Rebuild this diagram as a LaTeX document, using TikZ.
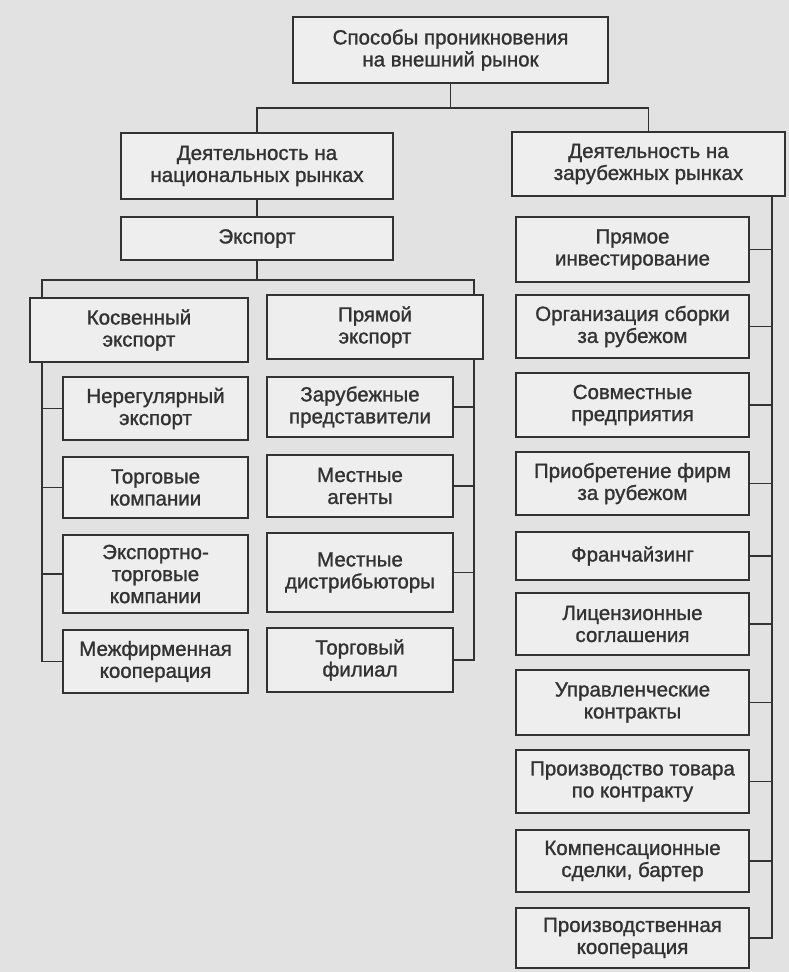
\documentclass[tikz,border=0pt]{standalone}
\usepackage{fontspec}
\newfontfamily\boxfont[FakeBold=1.2]{Liberation Sans}
\definecolor{pagebg}{RGB}{226,226,226}
\definecolor{boxfill}{RGB}{238,238,238}
\definecolor{ink}{RGB}{50,50,50}
\begin{document}
\begin{tikzpicture}[x=1pt, y=-1pt,
    box/.style={draw=ink, fill=boxfill, line width=1.7pt, align=center, inner sep=0pt,
                text=ink, font=\boxfont\fontsize{20.5}{22}\selectfont},
    link/.style={draw=ink, line width=1.7pt}]
        \fill[pagebg] (0,0) rectangle (789,972);
        \useasboundingbox (0,0) rectangle (789,972);

        % upper levels
        \node[box, minimum width=315pt, minimum height=66pt] (root) at (450.5,50) {Способы проникновения\\на внешний рынок};
        \node[box, minimum width=272pt, minimum height=66pt] (nat) at (257,166) {Деятельность на\\национальных рынках};
        \node[box, minimum width=273pt, minimum height=64pt] (fr) at (648.5,164) {Деятельность на\\зарубежных рынках};
        \node[box, minimum width=272pt, minimum height=43pt] (exp) at (257,238.5) {Экспорт};

        \node[box, minimum width=218pt, minimum height=64pt] (kos) at (139,330) {Косвенный\\экспорт};
        \node[box, minimum width=216pt, minimum height=64pt] (pr) at (375,327) {Прямой\\экспорт};

        % indirect export
        \node[box, minimum width=185pt, minimum height=63pt] (nereg) at (155.5,408.5) {Нерегулярный\\экспорт};
        \node[box, minimum width=185pt, minimum height=61pt] (torg) at (155.5,487.5) {Торговые\\компании};
        \node[box, minimum width=185pt, minimum height=78pt] (ektorg) at (155.5,574) {Экспортно-\\торговые\\компании};
        \node[box, minimum width=185pt, minimum height=63pt] (mezh) at (155.5,661.5) {Межфирменная\\кооперация};

        % direct export
        \node[box, minimum width=186pt, minimum height=60pt] (zarpr) at (360,407) {Зарубежные\\представители};
        \node[box, minimum width=186pt, minimum height=62pt] (agent) at (360,486) {Местные\\агенты};
        \node[box, minimum width=186pt, minimum height=79pt] (distr) at (360,572.5) {Местные\\дистрибьюторы};
        \node[box, minimum width=186pt, minimum height=64pt] (filial) at (360,660) {Торговый\\филиал};

        % foreign markets
        \node[box, minimum width=233pt, minimum height=65pt] (inv) at (632.5,249.5) {Прямое\\инвестирование};
        \node[box, minimum width=233pt, minimum height=63pt] (sborka) at (632.5,326.5) {Организация сборки\\за рубежом};
        \node[box, minimum width=233pt, minimum height=64pt] (sovm) at (632.5,405) {Совместные\\предприятия};
        \node[box, minimum width=233pt, minimum height=63pt] (priobr) at (632.5,483.5) {Приобретение фирм\\за рубежом};
        \node[box, minimum width=233pt, minimum height=48pt] (franch) at (632.5,556) {Франчайзинг};
        \node[box, minimum width=233pt, minimum height=62pt] (lic) at (632.5,624) {Лицензионные\\соглашения};
        \node[box, minimum width=233pt, minimum height=65pt] (upr) at (632.5,702.5) {Управленческие\\контракты};
        \node[box, minimum width=233pt, minimum height=63pt] (proizv) at (632.5,781.5) {Производство товара\\по контракту};
        \node[box, minimum width=233pt, minimum height=62pt] (komp) at (632.5,861) {Компенсационные\\сделки, бартер};
        \node[box, minimum width=233pt, minimum height=60pt] (koop) at (632.5,938) {Производственная\\кооперация};

        % bus positions
        \coordinate (kx) at (42,280);
        \coordinate (px) at (474,280);
        \coordinate (rx) at (772,0);

        \draw[link] (root.south) -- ++(0,24) -| (nat.north);
        \draw[link] (root.south) -- ++(0,24) -| (fr.north);
        \draw[link] (nat) -- (exp);
        \draw[link] (exp.south) -- (exp.south |- kx);
        \draw[link] (kos.north -| kx) -- (kx) -- (px) -- (pr.north -| px);

        \foreach \c in {nereg, torg, ektorg, mezh}
            \draw[link] (kos.south -| kx) |- (\c.west);
        \foreach \c in {zarpr, agent, distr, filial}
            \draw[link] (pr.south -| px) |- (\c.east);
        \foreach \c in {inv, sborka, sovm, priobr, franch, lic, upr, proizv, komp, koop}
            \draw[link] (fr.south -| rx) |- (\c.east);

    \end{tikzpicture}
\end{document}
